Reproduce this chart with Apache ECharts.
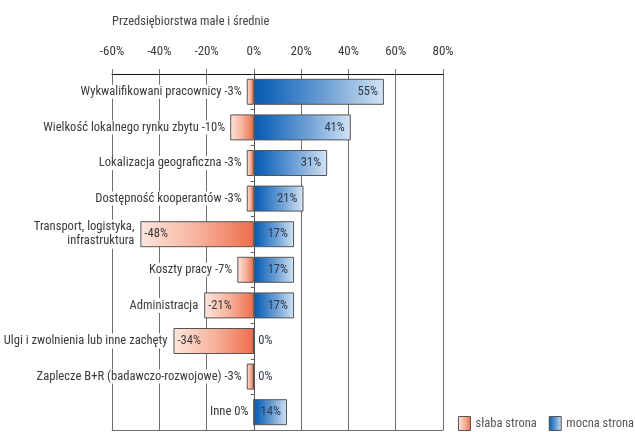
<!DOCTYPE html>
<html>
<head>
<meta charset="utf-8">
<script src="https://cdn.jsdelivr.net/npm/echarts@6/dist/echarts.min.js"></script>
<style>
  html, body { margin: 0; padding: 0; background: #fff; }
  #chart { width: 635px; height: 432px; }
</style>
</head>
<body>
<div id="chart"></div>
<script>
// Factors for small and medium enterprises: weak side (negative) vs strong side (positive)
const categories = [
  'Wykwalifikowani pracownicy',
  'Wielkość lokalnego rynku zbytu',
  'Lokalizacja geograficzna',
  'Dostępność kooperantów',
  'Transport, logistyka,\ninfrastruktura',
  'Koszty pracy',
  'Administracja',
  'Ulgi i zwolnienia lub inne zachęty',
  'Zaplecze B+R (badawczo-rozwojowe)',
  'Inne'
];
const weakValues = [-3, -10, -3, -3, -48, -7, -21, -34, -3, 0];
const strongValues = [55, 41, 31, 21, 17, 17, 17, 0, 0, 14];
const axisTicks = [-60, -40, -20, 0, 20, 40, 60, 80];
const chartTitle = 'Przedsiębiorstwa małe i średnie';
const weakName = 'słaba strona';
const strongName = 'mocna strona';

const FONT = '"Liberation Sans Narrow", "Roboto Condensed", "Liberation Sans", Arial, sans-serif';
const TEXT = '#3a3a3a';
const LABEL_SIZE = 12.6;

const blueFill = new echarts.graphic.LinearGradient(0, 0, 1, 0, [
  { offset: 0, color: '#0a5aae' },
  { offset: 0.12, color: '#1767bb' },
  { offset: 0.55, color: '#6c9fd5' },
  { offset: 1, color: '#d3e3f4' }
]);
const redFill = new echarts.graphic.LinearGradient(0, 0, 1, 0, [
  { offset: 0, color: '#fde6dd' },
  { offset: 0.5, color: '#f7b39d' },
  { offset: 1, color: '#ee6c4b' }
]);

const pct = v => v + '%';
// wide weak bars carry their value inside; narrow ones carry it next to the name
const isWide = v => Math.abs(v) >= 20;
// names sit on a white plate so the grid lines break around them
const plate = { backgroundColor: '#fff', padding: [1, 2, 0, 2] };

const weakData = weakValues.map((v, i) => ({
  value: v,
  label: isWide(v)
    ? { show: true, position: 'insideLeft', distance: 4, formatter: pct(v) }
    : Object.assign({ show: true, position: 'left', distance: 3, formatter: categories[i] + ' ' + pct(v) }, plate)
}));
const nameData = weakValues.map((v, i) => ({
  value: v,
  label: isWide(v)
    ? Object.assign({ show: true, position: 'left', distance: 4, align: 'right', formatter: categories[i] }, plate)
    : { show: false }
}));
const strongData = strongValues.map(v => ({
  value: v,
  label: v === 0
    ? { show: true, position: 'right', distance: 4, formatter: pct(v) }
    : { show: true, position: 'insideRight', distance: 6, formatter: pct(v) }
}));

const chart = echarts.init(document.getElementById('chart'), null, { renderer: 'canvas' });
chart.setOption({
  animation: false,
  textStyle: { fontFamily: FONT },
  title: {
    text: chartTitle,
    left: 107, top: 10,
    textStyle: { fontFamily: FONT, fontSize: 12.5, fontWeight: 'normal', color: '#444' }
  },
  legend: {
    right: 1, top: 416, padding: 0,
    itemWidth: 12, itemHeight: 14, itemGap: 12,
    textStyle: { fontFamily: FONT, fontSize: 12.5, color: '#555' },
    data: [
      { name: weakName, icon: 'rect', itemStyle: { color: redFill, borderColor: '#555', borderWidth: 1 } },
      { name: strongName, icon: 'rect', itemStyle: { color: blueFill, borderColor: '#555', borderWidth: 1 } }
    ]
  },
  grid: { left: 112, right: 192, top: 74, bottom: 2, containLabel: false },
  xAxis: [
    {
      type: 'value', position: 'top',
      min: axisTicks[0], max: axisTicks[axisTicks.length - 1], interval: 20,
      axisLine: { show: true, lineStyle: { color: '#111', width: 1 } },
      axisTick: { show: true, length: 5, lineStyle: { color: '#777' } },
      axisLabel: { margin: 16, fontFamily: FONT, fontSize: 13, color: TEXT, formatter: '{value}%' },
      splitLine: { show: true, lineStyle: { color: '#6e6e6e', width: 1 } }
    },
    {
      type: 'value', position: 'bottom',
      min: axisTicks[0], max: axisTicks[axisTicks.length - 1], interval: 20,
      axisLine: { show: true, onZero: false, lineStyle: { color: '#6e6e6e', width: 1 } },
      axisTick: { show: false }, axisLabel: { show: false }, splitLine: { show: false }
    }
  ],
  yAxis: {
    type: 'category', inverse: true, data: categories,
    axisLine: { show: true, lineStyle: { color: '#555' } },
    axisTick: { show: true, length: 3, lineStyle: { color: '#555' } },
    axisLabel: { show: false },
    splitLine: { show: false }
  },
  series: [
    {
      name: weakName, type: 'bar', xAxisIndex: 0,
      barWidth: 26, barGap: '-100%',
      data: weakData,
      itemStyle: { color: redFill, borderColor: '#555', borderWidth: 1 },
      label: { fontFamily: FONT, fontSize: LABEL_SIZE, color: TEXT }
    },
    {
      name: strongName, type: 'bar', xAxisIndex: 0,
      barWidth: 26, barGap: '-100%',
      data: strongData,
      itemStyle: { color: blueFill, borderColor: '#555', borderWidth: 1 },
      label: { fontFamily: FONT, fontSize: LABEL_SIZE, color: '#2e3a4a' }
    },
    {
      name: 'names', type: 'bar', xAxisIndex: 0,
      barWidth: 26, barGap: '-100%',
      data: nameData,
      silent: true,
      itemStyle: { color: 'rgba(0,0,0,0)', borderWidth: 0 },
      label: { fontFamily: FONT, fontSize: LABEL_SIZE, color: TEXT, lineHeight: 14 }
    }
  ]
});
</script>
</body>
</html>
